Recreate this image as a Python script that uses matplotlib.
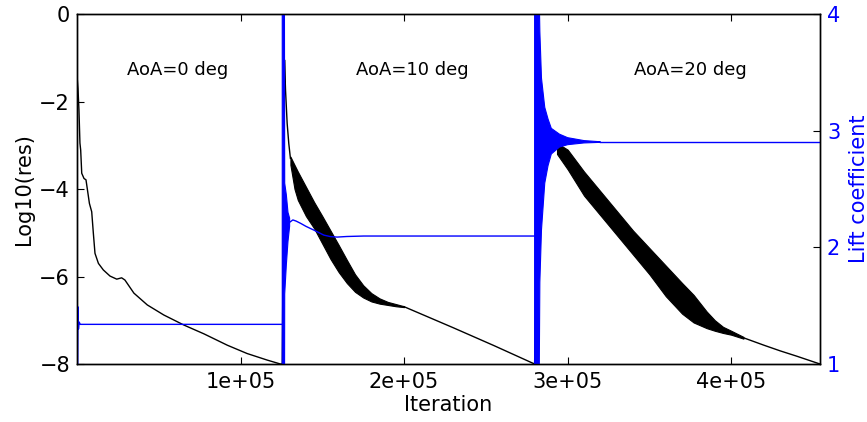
import matplotlib
matplotlib.use("Agg")
import matplotlib.pyplot as plt
from matplotlib.ticker import FuncFormatter

# ---------------- data ----------------
# Residual, AoA = 0 deg
res1_x = [0, 600, 1200, 1800, 2260, 2900, 4300, 5500, 7600, 9000, 10000, 11000,
          13100, 16100, 20200, 24300, 27300, 29300, 34800, 43000, 53100, 65400,
          77600, 91900, 104000, 116300, 124400, 125500]
res1_y = [-1.4, -1.7, -2.19, -2.95, -3.11, -3.64, -3.76, -3.79, -4.33, -4.52, -5.01,
          -5.47, -5.7, -5.85, -5.99, -6.06, -6.03, -6.08, -6.38, -6.65, -6.88, -7.11,
          -7.31, -7.57, -7.76, -7.91, -8.0, -8.0]

# Residual, AoA = 10 deg
res2_head_x = [126900, 127500, 128500, 129500, 130500]
res2_head_y = [-1.05, -1.74, -2.5, -2.96, -3.3]
band2_x = [130500, 133000, 135000, 140000, 145000, 150000, 155000, 160000, 165000,
           170000, 175000, 180000, 185000, 190000, 195000, 200000]
band2_hi = [-3.26, -3.45, -3.6, -3.95, -4.3, -4.62, -4.95, -5.28, -5.62,
            -5.95, -6.2, -6.38, -6.5, -6.58, -6.63, -6.68]
band2_lo = [-3.45, -4.0, -4.25, -4.62, -4.9, -5.25, -5.6, -5.9, -6.15,
            -6.35, -6.48, -6.57, -6.62, -6.65, -6.68, -6.7]
res2_tail_x = [200000, 215000, 230000, 255000, 279800]
res2_tail_y = [-6.69, -6.93, -7.17, -7.58, -8.0]

# Residual, AoA = 20 deg
res3_head_x = [282700, 284000, 287000, 290000, 293500]
res3_head_y = [-1.5, -2.2, -2.65, -2.88, -3.05]
band3_x = [293500, 300000, 310000, 320000, 330000, 340000, 350000, 360000, 370000,
           377000, 385000, 390000, 395000, 400000, 407500]
band3_hi = [-2.95, -3.1, -3.6, -4.05, -4.5, -4.95, -5.35, -5.75, -6.15,
            -6.42, -6.8, -7.0, -7.15, -7.24, -7.38]
band3_lo = [-3.2, -3.55, -4.15, -4.6, -5.05, -5.5, -5.95, -6.45, -6.85,
            -7.05, -7.18, -7.24, -7.29, -7.33, -7.42]
res3_tail_x = [407500, 420000, 430000, 440000, 454300]
res3_tail_y = [-7.4, -7.57, -7.7, -7.82, -8.0]

# Lift coefficient
cl1_x = [0, 300, 600, 900, 1300, 2000, 125500]
cl1_y = [2.47, 0.9, 1.49, 1.3, 1.36, 1.34, 1.34]

cl2_env_x = [125500, 126800, 127000, 128000, 129000, 130000]
cl2_env_lo = [0.0, 0.0, 1.6, 1.85, 2.05, 2.18]
cl2_env_hi = [4.5, 4.5, 2.55, 2.45, 2.3, 2.25]
cl2_x = [130000, 132000, 134000, 136700, 140000, 144800, 150900, 155000, 159100,
         165000, 175300, 279800]
cl2_y = [2.215, 2.235, 2.225, 2.206, 2.18, 2.148, 2.105, 2.092, 2.088,
         2.093, 2.097, 2.097]

cl3_env_x = [279800, 282200, 283000, 284000, 286000, 288000, 290000, 295000,
             300000, 310000, 320000]
cl3_env_lo = [0.0, 0.0, 1.7, 2.15, 2.55, 2.7, 2.8, 2.86, 2.88, 2.895, 2.9]
cl3_env_hi = [4.5, 4.5, 3.85, 3.45, 3.2, 3.1, 3.02, 2.97, 2.94, 2.915, 2.905]
cl3_x = [320000, 454300]
cl3_y = [2.9, 2.9]

labels = ["AoA=0 deg", "AoA=10 deg", "AoA=20 deg"]
label_x = [61500, 205000, 375000]
label_y = -1.28

x_ticks = [100000, 200000, 300000, 400000]
y_ticks_left = [0, -2, -4, -6, -8]
y_ticks_right = [1, 2, 3, 4]

# ---------------- figure ----------------
BLUE = "#0000ff"
fig = plt.figure(figsize=(8.67, 4.22), dpi=100)
ax = fig.add_axes([0.0888, 0.1374, 0.857, 0.8294])

# black residual
ax.plot(res1_x + res2_head_x, res1_y + res2_head_y, color="k", lw=1.0)
ax.fill_between(band2_x, band2_lo, band2_hi, color="k", lw=0.8)
ax.plot(res2_tail_x + res3_head_x, res2_tail_y + res3_head_y, color="k", lw=1.0)
ax.fill_between(band3_x, band3_lo, band3_hi, color="k", lw=0.8)
ax.plot(res3_tail_x, res3_tail_y, color="k", lw=1.0)

for t, xx in zip(labels, label_x):
    ax.text(xx, label_y, t, ha="center", va="center", fontsize=13)

ax.set_xlim(0, 454300)
ax.set_ylim(-8, 0)
ax.set_xticks(x_ticks)
ax.set_yticks(y_ticks_left)
ax.xaxis.set_major_formatter(FuncFormatter(lambda v, p: "%.0e" % v))
ax.set_xlabel("Iteration", fontsize=15, labelpad=2)
ax.set_ylabel("Log10(res)", fontsize=15, labelpad=4)
ax.tick_params(axis="both", direction="in", labelsize=15, length=5, width=0.8,
               top=True, pad=6)
ax.tick_params(axis="y", pad=5)

# blue lift coefficient
ax2 = ax.twinx()
ax2.plot(cl1_x, cl1_y, color=BLUE, lw=1.0)
ax2.fill_between(cl2_env_x, cl2_env_lo, cl2_env_hi, color=BLUE, lw=0.8)
ax2.plot(cl2_x, cl2_y, color=BLUE, lw=1.0)
ax2.fill_between(cl3_env_x, cl3_env_lo, cl3_env_hi, color=BLUE, lw=0.8)
ax2.plot(cl3_x, cl3_y, color=BLUE, lw=1.0)
ax2.set_ylim(1, 4)
ax2.set_yticks(y_ticks_right)
ax2.set_ylabel("Lift coefficient", color=BLUE, fontsize=15, labelpad=6)
ax2.tick_params(axis="y", direction="in", labelsize=15, labelcolor=BLUE,
                length=5, width=0.8, pad=5)
ax2.set_xlim(0, 454300)

for a in (ax, ax2):
    for s in a.spines.values():
        s.set_linewidth(1.0)

fig.savefig("out.png", dpi=100)
